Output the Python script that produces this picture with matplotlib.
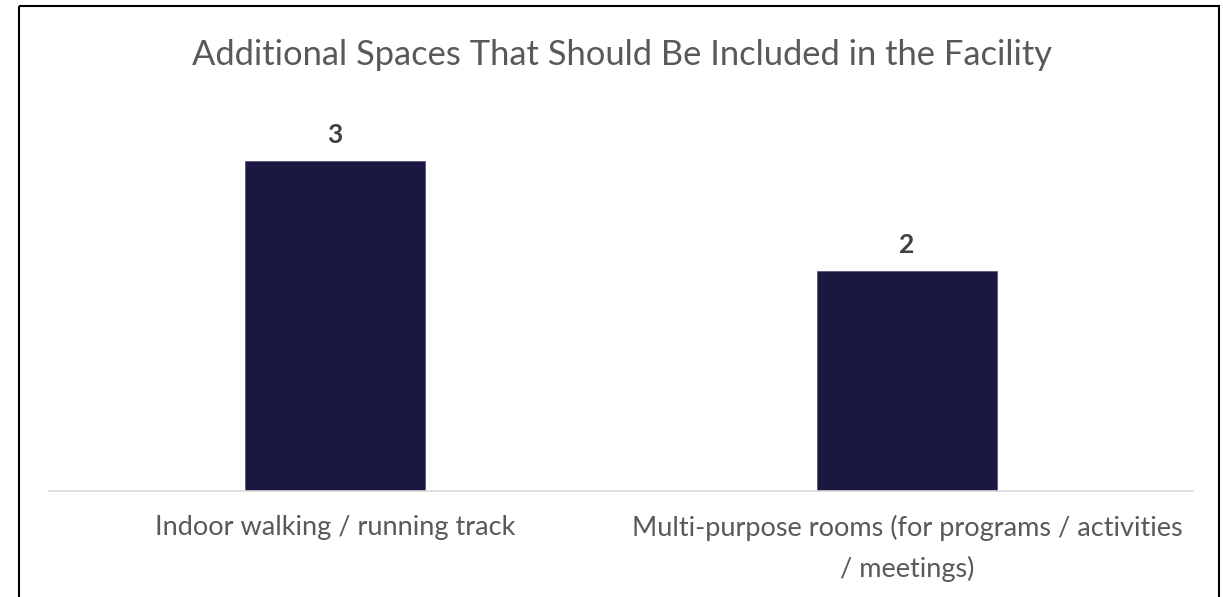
import matplotlib
matplotlib.use("Agg")
import matplotlib.pyplot as plt
from matplotlib.patches import Rectangle
from matplotlib.transforms import Affine2D

categories = ["Indoor walking / running track",
              "Multi-purpose rooms (for programs / activities\n/ meetings)"]
values = [3, 2]
title = "Additional Spaces That Should Be Included in the Facility"

plt.rcParams['font.family'] = ['Lato', 'DejaVu Sans']

fig = plt.figure(figsize=(12.23, 5.97), dpi=100)
ax = fig.add_axes([49 / 1223, 106 / 597, 1144 / 1223, 440 / 597])

x = range(len(categories))
bars = ax.bar(x, values, width=0.315, color="#1a1742", edgecolor="#4a4a7a", linewidth=0.5)
ax.set_xlim(-0.5, len(categories) - 0.5)
ax.set_ylim(0, 4)

for b, v in zip(bars, values):
    ax.text(b.get_x() + b.get_width() / 2, v + 0.165, str(v), ha="center", va="baseline",
            fontsize=19, fontweight="bold", color="#404040")

for s in ["top", "left", "right"]:
    ax.spines[s].set_visible(False)
ax.spines["bottom"].set_color("#d9d9d9")
ax.spines["bottom"].set_linewidth(1.2)
ax.set_yticks([])
ax.set_xticks(list(x))
ax.set_xticklabels(categories, fontsize=19.5, color="#595959", linespacing=1.7)
ax.tick_params(axis="x", length=0, pad=17)

fig.text(622 / 1223, 1 - 55 / 597, title, ha="center", va="center", fontsize=24.8, color="#595959")

border = Rectangle((19, 6), 1200, 620, fill=False, edgecolor="black", linewidth=1.5)
border.set_transform(Affine2D().scale(1, -1).translate(0, 597))
fig.patches.append(border)

fig.savefig("out.png", dpi=100)
